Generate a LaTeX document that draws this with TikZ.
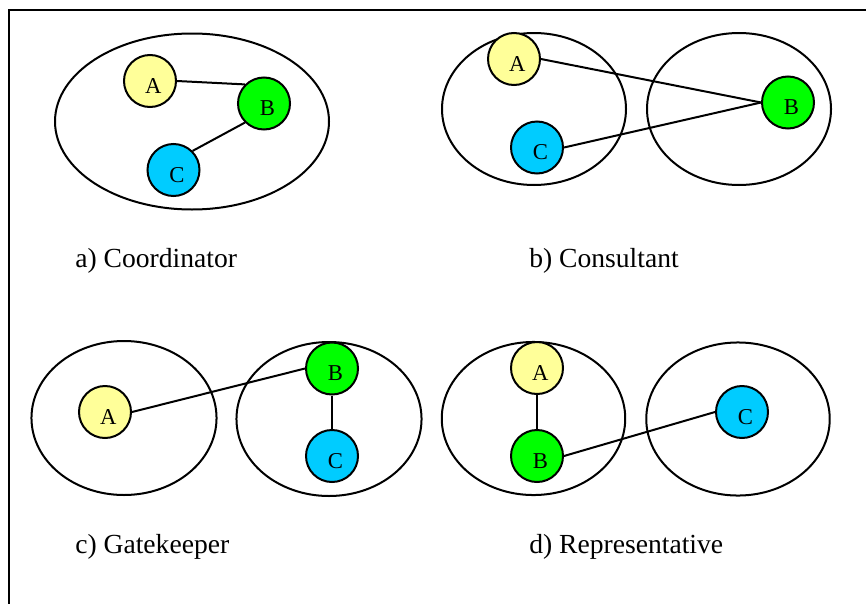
\documentclass[tikz,border=0pt]{standalone}
\usepackage{fontspec}
\setmainfont{Liberation Serif}
\definecolor{cyel}{HTML}{FFFF99}
\definecolor{cgrn}{HTML}{00FF00}
\definecolor{ccyn}{HTML}{00CCFF}
\begin{document}
\begin{tikzpicture}[x=0.75pt,y=-0.75pt,
  grp/.style={draw=black, line width=1.5pt},
  circ/.style={circle, draw=black, line width=1.5pt, minimum size=39pt, inner sep=0pt,
     font=\fontsize{17pt}{18pt}\selectfont, text height=18pt, text depth=0pt},
  ya/.style={circ, fill=cyel},
  gb/.style={circ, fill=cgrn},
  cc/.style={circ, fill=ccyn},
  link/.style={draw=black, line width=1.5pt},
  captext/.style={anchor=base west, inner sep=0pt, font=\fontsize{20.7pt}{24pt}\selectfont}
]
\useasboundingbox (0,0) rectangle (866,603);
\draw[line width=1.5pt] (9,606) -- (9,10) -- (870,10);

% a) Coordinator
\draw[grp] (192,121.5) ellipse [x radius=102.75pt, y radius=66pt];
\node[ya] (aA) at (150,81) {\hspace{5pt}A};
\node[gb] (aB) at (264,103.5) {\hspace{5pt}B};
\node[cc] (aC) at (173.5,170) {\hspace{5pt}C};
\draw[link] (aA.east) -- (aB.135);
\draw[link] (aC.45) -- (aB.225);
\node[captext] (la) at (75,267) {a) Coordinator};

% b) Consultant
\draw[grp] (534,109) ellipse [x radius=69pt, y radius=57pt];
\draw[grp] (739,109) ellipse [x radius=69pt, y radius=57pt];
\node[ya] (bA) at (514,59) {\hspace{5pt}A};
\node[gb] (bB) at (788,102.5) {\hspace{5pt}B};
\node[cc] (bC) at (537,147.5) {\hspace{5pt}C};
\draw[link] (bA.east) -- (bB.west);
\draw[link] (bC.east) -- (bB.west);
\node[captext] (lb) at (529,267) {b) Consultant};

% c) Gatekeeper
\draw[grp] (124,418) ellipse [x radius=69.4pt, y radius=57.75pt];
\draw[grp] (329,419) ellipse [x radius=69.4pt, y radius=57.75pt];
\node[ya] (cA) at (105,412) {\hspace{5pt}A};
\node[gb] (cB) at (332,368.5) {\hspace{5pt}B};
\node[cc] (cC) at (332,456) {\hspace{5pt}C};
\draw[link] (cA.east) -- (cB.west);
\draw[link] (cB.south) -- (cC.north);
\node[captext] (lc) at (75,553) {c) Gatekeeper};

% d) Representative
\draw[grp] (533.5,418.5) ellipse [x radius=68.8pt, y radius=57.4pt];
\draw[grp] (738,419) ellipse [x radius=68.8pt, y radius=57.4pt];
\node[ya] (dA) at (537,368) {\hspace{5pt}A};
\node[gb] (dB) at (537,456) {\hspace{5pt}B};
\node[cc] (dC) at (742,412) {\hspace{5pt}C};
\draw[link] (dA.south) -- (dB.north);
\draw[link] (dB.east) -- (dC.west);
\node[captext] (ld) at (529,553) {d) Representative};
\end{tikzpicture}
\end{document}
